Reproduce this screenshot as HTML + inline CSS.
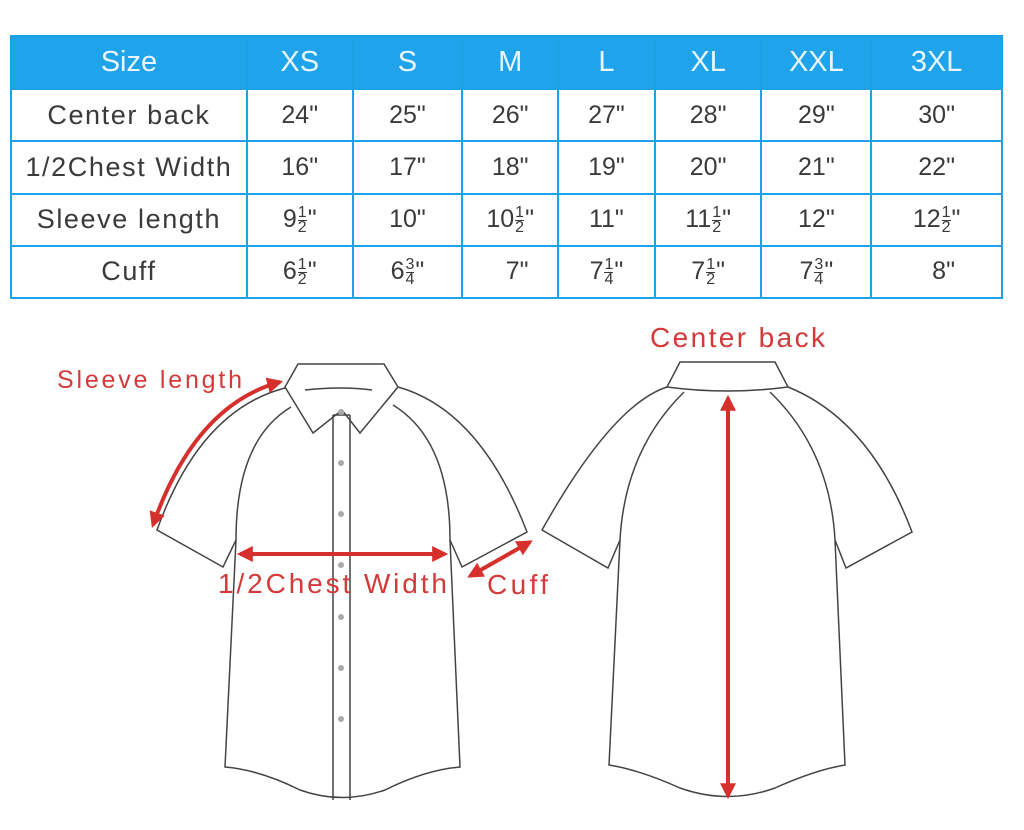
<!DOCTYPE html>
<html><head><meta charset="utf-8"><style>
html,body{margin:0;padding:0;background:#fff;width:1024px;height:830px;overflow:hidden;font-family:"Liberation Sans",sans-serif}
table{position:absolute;left:10px;top:35px;border-collapse:collapse;width:993px;height:264px}
td{border:2px solid #1da1e6;text-align:center;padding:0;color:#3a3a3a;font-size:25px}
tr.h td{background:#1fa3ea;color:#e8f6ff;font-size:29px;height:51px}
tr.r td{height:50px}
td.lab{font-size:27px;letter-spacing:1.6px;white-space:nowrap}
.f{display:inline-block;vertical-align:middle;font-size:16px;line-height:14px;text-align:center;margin:0 1px}
.f span{display:block}
.f span.t{border-bottom:1.5px solid #3a3a3a}
svg{position:absolute;left:0;top:0}
</style></head><body>
<table>
<colgroup><col style="width:236px"><col style="width:106px"><col style="width:110px"><col style="width:96px"><col style="width:97px"><col style="width:107px"><col style="width:110px"><col style="width:131px"></colgroup>
<tr class="h"><td>Size</td><td>XS</td><td>S</td><td>M</td><td>L</td><td>XL</td><td>XXL</td><td>3XL</td></tr>
<tr class="r"><td class="lab">Center back</td><td>24"</td><td>25"</td><td>26"</td><td>27"</td><td>28"</td><td>29"</td><td>30"</td></tr>
<tr class="r"><td class="lab">1/2Chest Width</td><td>16"</td><td>17"</td><td>18"</td><td>19"</td><td>20"</td><td>21"</td><td>22"</td></tr>
<tr class="r"><td class="lab">Sleeve length</td>
<td>9<span class="f"><span class="t">1</span><span>2</span></span>"</td><td>10"</td>
<td>10<span class="f"><span class="t">1</span><span>2</span></span>"</td><td>11"</td>
<td>11<span class="f"><span class="t">1</span><span>2</span></span>"</td><td>12"</td>
<td>12<span class="f"><span class="t">1</span><span>2</span></span>"</td></tr>
<tr class="r"><td class="lab">Cuff</td>
<td>6<span class="f"><span class="t">1</span><span>2</span></span>"</td>
<td>6<span class="f"><span class="t">3</span><span>4</span></span>"</td>
<td>&nbsp;&nbsp;7"</td>
<td>7<span class="f"><span class="t">1</span><span>4</span></span>"</td>
<td>7<span class="f"><span class="t">1</span><span>2</span></span>"</td>
<td>7<span class="f"><span class="t">3</span><span>4</span></span>"</td>
<td>&nbsp;&nbsp;8"</td></tr>
</table>
<svg width="1024" height="830" viewBox="0 0 1024 830">
<defs><marker id="ah" viewBox="0 0 10 10" refX="8" refY="5" markerWidth="4" markerHeight="4" orient="auto-start-reverse"><path d="M0,0L10,5L0,10z" fill="#d6302c"/></marker></defs>
<g fill="none" stroke="#444" stroke-width="1.5">
<path d="M298,364 L384,364 L398,387 L360,433 L342,410 L313,433 L285,387 Z" fill="#fff"/>
<path d="M305,390 Q342,386 372,390"/>
<path d="M285,388 Q200,410 157,530 L223,567 L236,540 L225,767 Q260,770 300,790 Q342,805 385,790 Q425,770 460,767 L450,540 L462,567 L527,532 Q480,410 398,387"/>
<path d="M291,407 Q236,440 236,540"/>
<path d="M393,405 Q450,440 450,540"/>
<path d="M333,415 L333,800 M350,415 L350,800 M333,415 L350,415"/>
<g fill="#aaa" stroke="none"><circle cx="341" cy="412" r="3"/><circle cx="341" cy="463" r="3"/><circle cx="341" cy="514" r="3"/><circle cx="341" cy="565" r="3"/><circle cx="341" cy="617" r="3"/><circle cx="341" cy="668" r="3"/><circle cx="341" cy="719" r="3"/></g>
</g>
<g fill="none" stroke="#444" stroke-width="1.5">
<path d="M680,362 L775,362 L788,387 Q727,395 667,387 Z" fill="#fff"/>
<path d="M667,387 Q612,405 542,530 L608,568 L620,540 L609,765 Q640,770 680,788 Q728,805 775,788 Q815,770 845,765 L835,540 L846,568 L912,532 Q870,420 788,387"/>
<path d="M684,392 Q625,450 620,540"/>
<path d="M770,392 Q830,450 835,540"/>
</g>
<g stroke="#d6302c" stroke-width="4" fill="none">
<path d="M240,554 L445,554" marker-start="url(#ah)" marker-end="url(#ah)"/>
<path d="M153,525 Q195,405 280,382" marker-start="url(#ah)" marker-end="url(#ah)"/>
<path d="M470,576 L530,542" marker-start="url(#ah)" marker-end="url(#ah)"/>
<path d="M728,398 L728,796" marker-start="url(#ah)" marker-end="url(#ah)"/>
</g>
<g fill="#d33a3a" font-family="Liberation Sans, sans-serif">
<text x="57" y="388" font-size="25" textLength="185" lengthAdjust="spacing">Sleeve length</text>
<text x="218" y="593" font-size="28" textLength="229" lengthAdjust="spacing">1/2Chest Width</text>
<text x="487" y="594" font-size="28" textLength="61" lengthAdjust="spacing">Cuff</text>
<text x="650" y="347" font-size="28" textLength="175" lengthAdjust="spacing">Center back</text>
</g>
</svg>
</body></html>
